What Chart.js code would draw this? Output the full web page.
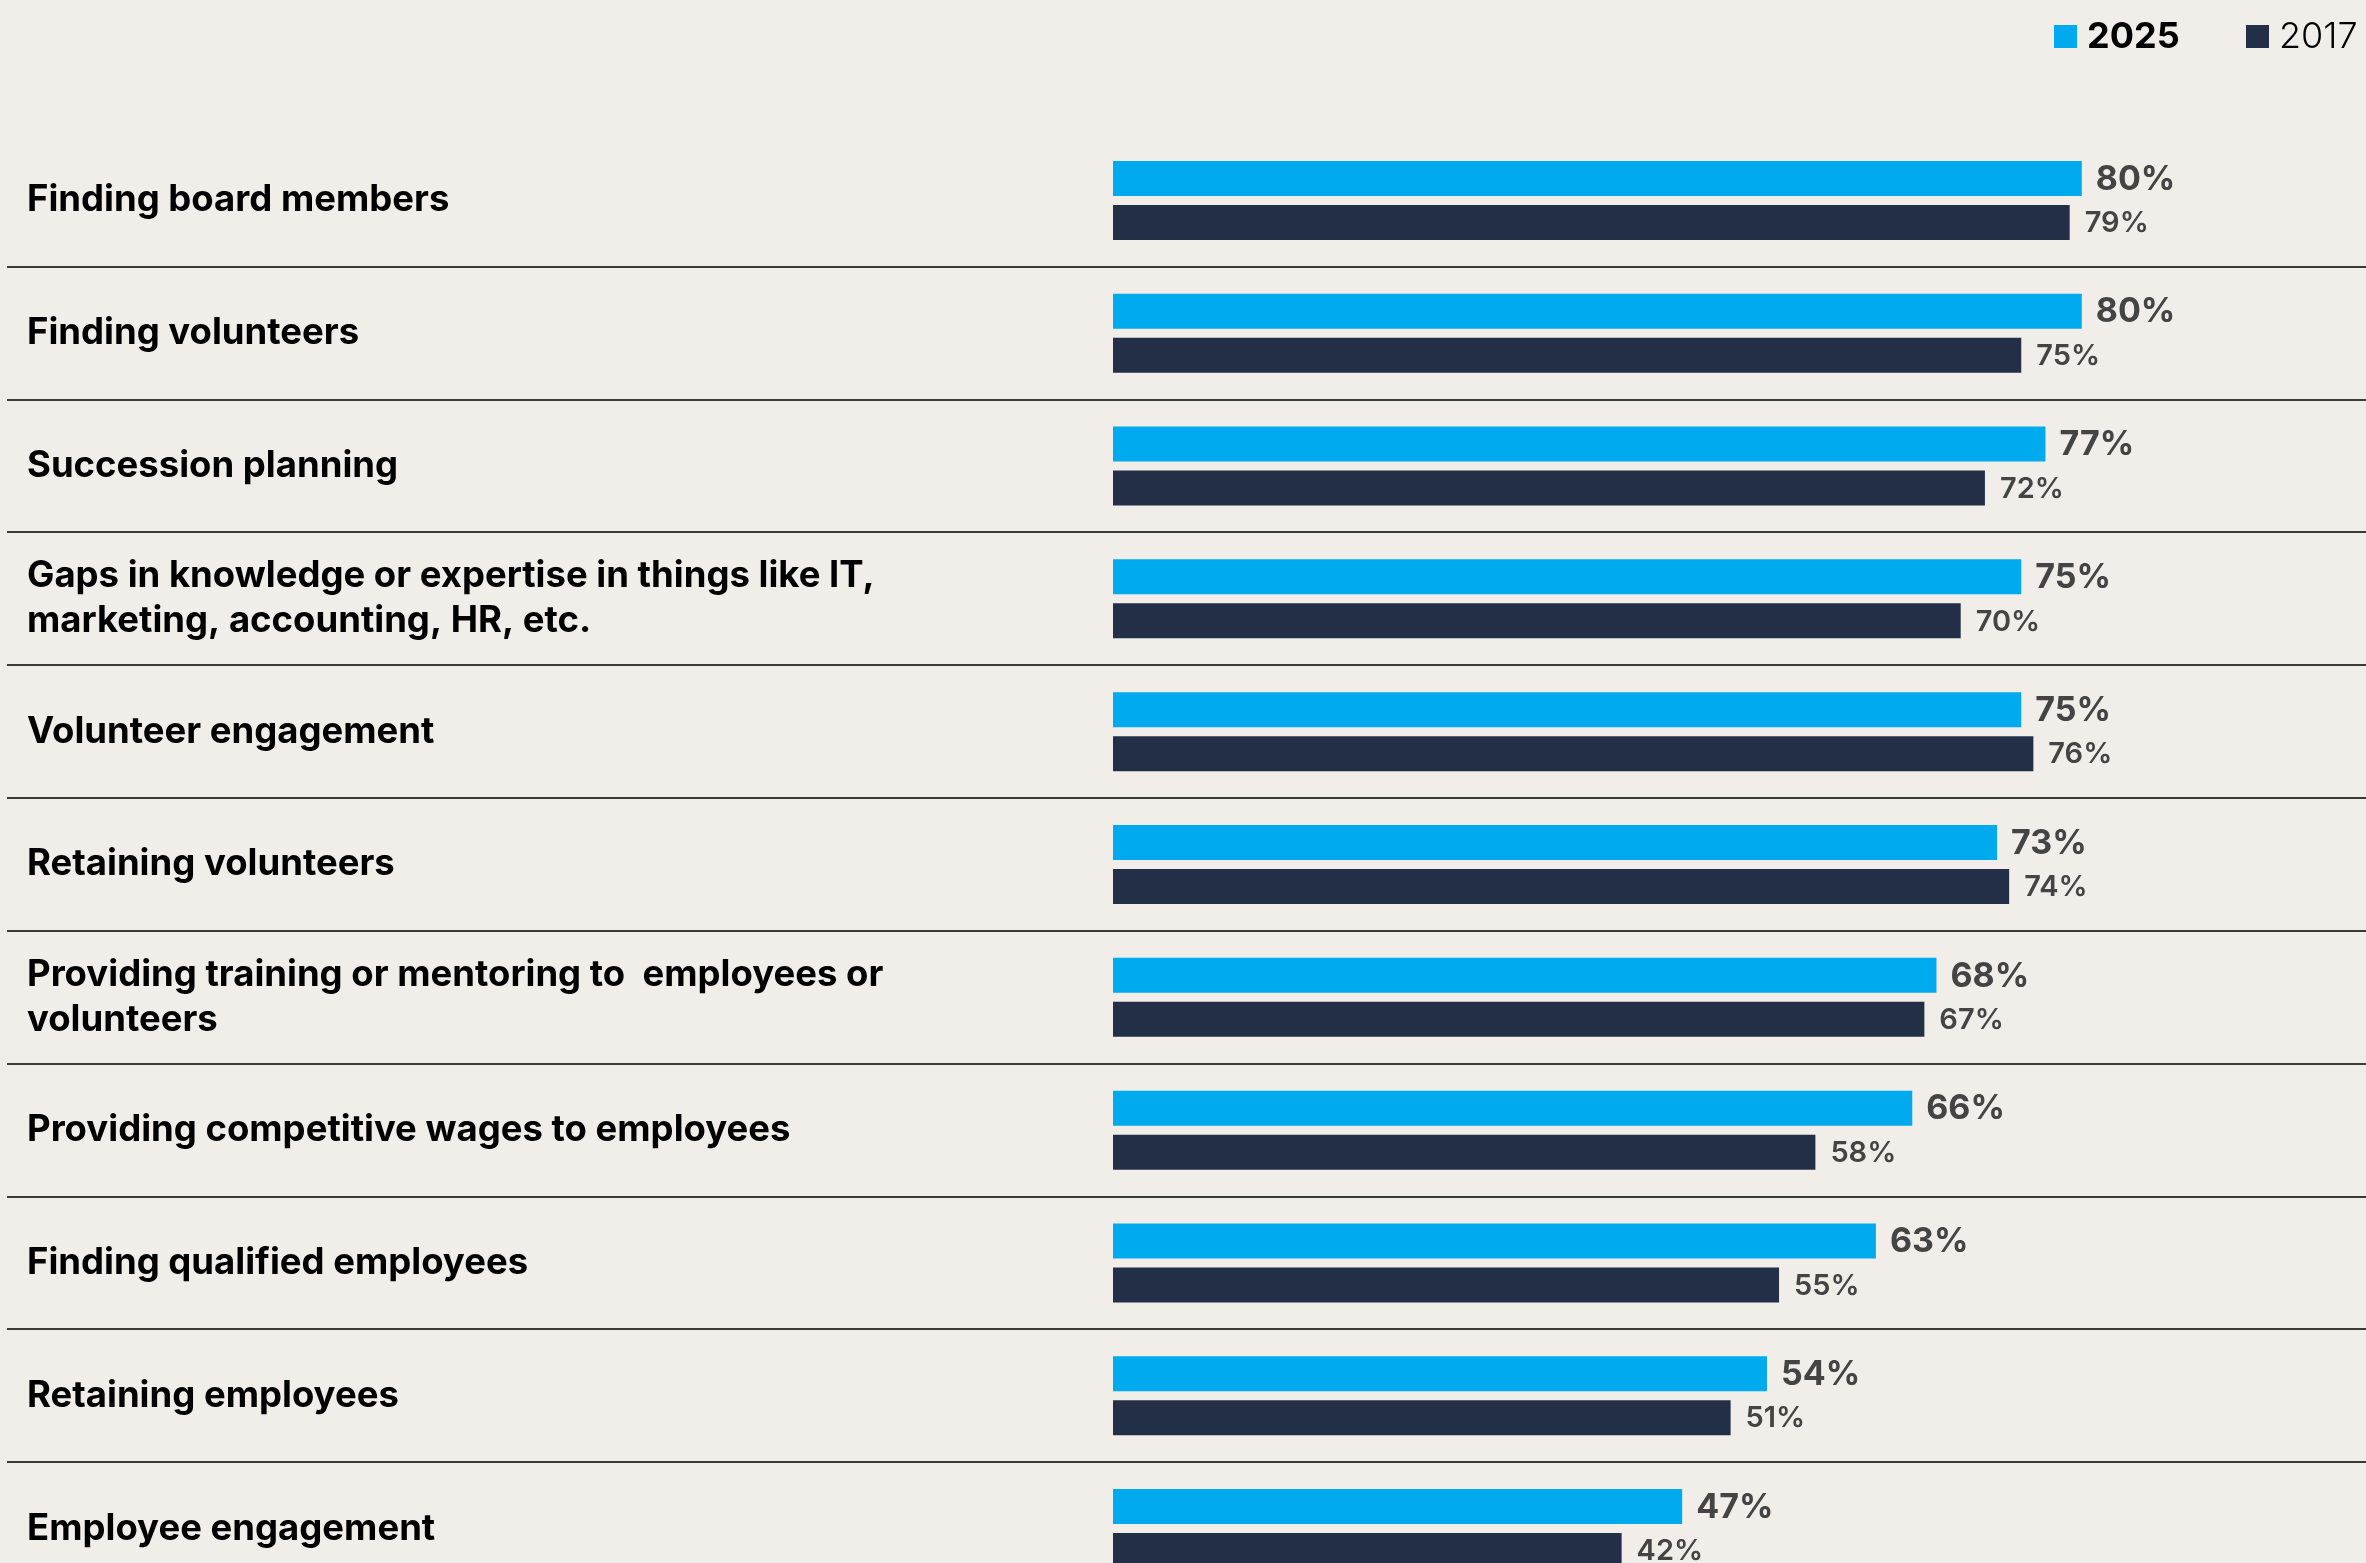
<!DOCTYPE html>
<html>
<head>
<meta charset="utf-8">
<script src="https://cdn.jsdelivr.net/npm/chart.js@4.4.1/dist/chart.umd.min.js"></script>
<style>
  html, body { margin: 0; padding: 0; background: #f1eeea; overflow: hidden; }
  #wrap { width: 2366px; height: 1624px; }
</style>
</head>
<body>
<div id="wrap"><canvas id="grafico" width="2366" height="1624"></canvas></div>
<script>
// categorias y valores (%)
const categorias = [
  "Finding board members",
  "Finding volunteers",
  "Succession planning",
  ["Gaps in knowledge or expertise in things like IT,", "marketing, accounting, HR, etc."],
  "Volunteer engagement",
  "Retaining volunteers",
  ["Providing training or mentoring to  employees or", "volunteers"],
  "Providing competitive wages to employees",
  "Finding qualified employees",
  "Retaining employees",
  "Employee engagement"
];
const valores2025 = [80, 80, 77, 75, 75, 73, 68, 66, 63, 54, 47];
const valores2017 = [79, 75, 72, 70, 76, 74, 67, 58, 55, 51, 42];
const series = ["2025", "2017"];
const colores = ["#00aaee", "#232f47"];

const FUENTE = "Inter, 'Open Sans', sans-serif";

// lineas separadoras entre filas, de borde a borde
const separadores = {
  id: "separadores",
  beforeDatasetsDraw(chart) {
    const { ctx, scales: { y } } = chart;
    const n = chart.data.labels.length;
    ctx.save();
    ctx.strokeStyle = "#3c3a37";
    ctx.lineWidth = 2;
    for (let i = 1; i < n; i++) {
      const pos = Math.round((y.getPixelForTick(i - 1) + y.getPixelForTick(i)) / 2);
      ctx.beginPath();
      ctx.moveTo(7, pos);
      ctx.lineTo(chart.width, pos);
      ctx.stroke();
    }
    ctx.restore();
  }
};

// etiquetas con el porcentaje al final de cada barra
const etiquetasValor = {
  id: "etiquetasValor",
  afterDatasetsDraw(chart) {
    const { ctx } = chart;
    chart.data.datasets.forEach((ds, di) => {
      const meta = chart.getDatasetMeta(di);
      ctx.save();
      ctx.fillStyle = "#444444";
      ctx.textBaseline = "middle";
      ctx.textAlign = "left";
      ctx.font = di === 0 ? `700 34px ${FUENTE}` : `600 29px ${FUENTE}`;
      meta.data.forEach((bar, i) => {
        ctx.fillText(ds.data[i] + "%", bar.x + (di === 0 ? 14 : 15), bar.y + 1);
      });
      ctx.restore();
    });
  }
};

// leyenda arriba a la derecha
const leyenda = {
  id: "leyenda",
  afterDraw(chart) {
    const { ctx } = chart;
    const posiciones = [2054, 2246];
    ctx.save();
    ctx.textBaseline = "middle";
    ctx.textAlign = "left";
    chart.data.datasets.forEach((ds, di) => {
      const x = posiciones[di];
      ctx.fillStyle = ds.backgroundColor;
      ctx.fillRect(x, 25, 23, 23);
      ctx.fillStyle = "#000000";
      ctx.font = (di === 0 ? "700 " : "300 ") + `36px ${FUENTE}`;
      ctx.fillText(ds.label, x + 33, 37);
    });
    ctx.restore();
  }
};

new Chart(document.getElementById("grafico"), {
  type: "bar",
  data: {
    labels: categorias,
    datasets: [
      {
        label: series[0],
        data: valores2025,
        backgroundColor: colores[0],
        categoryPercentage: 0.6627,
        barPercentage: 0.795
      },
      {
        label: series[1],
        data: valores2017,
        backgroundColor: colores[1],
        categoryPercentage: 0.6627,
        barPercentage: 0.795
      }
    ]
  },
  options: {
    indexAxis: "y",
    responsive: false,
    animation: false,
    layout: {
      padding: { top: 134, left: 27, right: 42, bottom: 29 }
    },
    plugins: {
      legend: { display: false },
      tooltip: { enabled: false }
    },
    scales: {
      x: {
        min: 0,
        max: 100,
        display: false
      },
      y: {
        grid: { display: false },
        border: { display: false },
        afterFit(scale) { scale.width = 1086; },
        ticks: {
          crossAlign: "far",
          color: "#000000",
          padding: 0,
          font: { family: FUENTE, size: 36.5, weight: "700", lineHeight: 1.24 }
        }
      }
    }
  },
  plugins: [separadores, etiquetasValor, leyenda]
});
</script>
</body>
</html>
